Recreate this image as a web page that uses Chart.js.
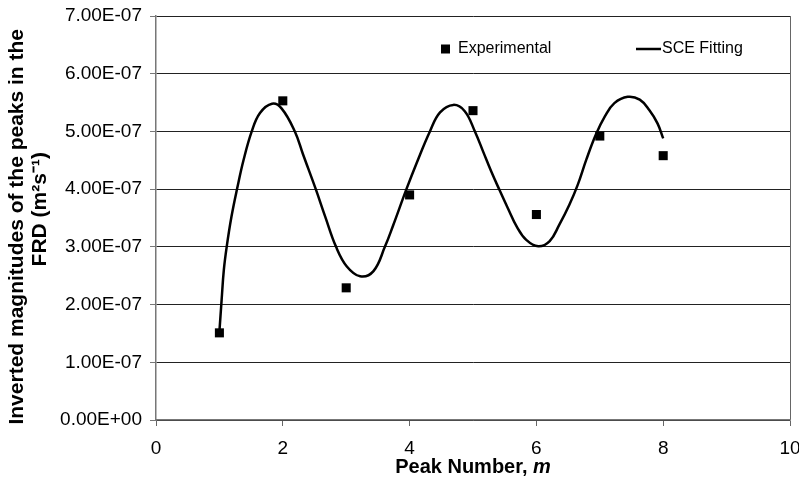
<!DOCTYPE html>
<html>
<head>
<meta charset="utf-8">
<script src="https://cdn.jsdelivr.net/npm/chart.js@4"></script>
<style>
  html, body { margin: 0; padding: 0; background: #fff; }
  #wrap { width: 799px; height: 483px; }
</style>
</head>
<body>
<div id="wrap"><canvas id="frdChart"></canvas></div>
<script>
// measured peak magnitudes
const expPeak = [1, 2, 3, 4, 5, 6, 7, 8];
const expMag = [1.51e-7, 5.53e-7, 2.29e-7, 3.90e-7, 5.36e-7, 3.56e-7, 4.92e-7, 4.58e-7];

// SCE fitted curve
const fitPeak = [1.00, 1.035, 1.07, 1.115, 1.19, 1.28, 1.38, 1.51, 1.64, 1.83, 1.98, 2.19, 2.32,
  2.52, 2.67, 2.84, 3.01, 3.22, 3.43, 3.61, 3.74, 3.95, 4.11, 4.32, 4.48, 4.69, 4.87, 5.03,
  5.16, 5.29, 5.42, 5.55, 5.69, 5.84, 6.03, 6.21, 6.36, 6.52, 6.65, 6.79, 6.94, 7.08, 7.23,
  7.44, 7.63, 7.78, 7.91, 8.00];
const fitMag = [1.53e-7, 2.08e-7, 2.60e-7, 3.00e-7, 3.52e-7, 4.01e-7, 4.50e-7, 5.00e-7, 5.32e-7,
  5.48e-7, 5.40e-7, 5.00e-7, 4.60e-7, 4.00e-7, 3.52e-7, 3.00e-7, 2.66e-7, 2.49e-7, 2.58e-7,
  3.00e-7, 3.37e-7, 4.00e-7, 4.45e-7, 5.00e-7, 5.33e-7, 5.46e-7, 5.35e-7, 5.00e-7, 4.65e-7,
  4.30e-7, 3.98e-7, 3.67e-7, 3.35e-7, 3.12e-7, 3.01e-7, 3.10e-7, 3.38e-7, 3.73e-7, 4.07e-7,
  4.52e-7, 4.95e-7, 5.26e-7, 5.49e-7, 5.60e-7, 5.55e-7, 5.37e-7, 5.14e-7, 4.88e-7];

const yTickLabels = ["0.00E+00", "1.00E-07", "2.00E-07", "3.00E-07", "4.00E-07",
  "5.00E-07", "6.00E-07", "7.00E-07"];

const FONT = "Arial, 'Liberation Sans', sans-serif";

// legend inside the plot area, plus the x title with an italic "m"
const extras = {
  id: "extras",
  afterDraw(chart) {
    const { ctx, chartArea } = chart;
    const x0 = chartArea.left, y0 = chartArea.top + 33;
    ctx.save();
    ctx.fillStyle = "#000";
    ctx.fillRect(x0 + 285, y0 - 4.5, 9, 9);
    ctx.font = "16px " + FONT;
    ctx.textBaseline = "middle";
    ctx.fillText("Experimental", x0 + 302, y0);
    ctx.strokeStyle = "#000";
    ctx.lineWidth = 2.5;
    ctx.beginPath();
    ctx.moveTo(x0 + 480, y0);
    ctx.lineTo(x0 + 505, y0);
    ctx.stroke();
    ctx.fillText("SCE Fitting", x0 + 506, y0);

    const head = "Peak Number, ", unit = "m";
    const boldFont = "bold 20px " + FONT, italFont = "italic bold 20px " + FONT;
    ctx.font = boldFont;
    const w1 = ctx.measureText(head).width;
    ctx.font = italFont;
    const w2 = ctx.measureText(unit).width;
    const tx = (chartArea.left + chartArea.right) / 2 - (w1 + w2) / 2;
    const ty = chartArea.bottom + 47;
    ctx.textAlign = "left";
    ctx.font = boldFont;
    ctx.fillText(head, tx, ty);
    ctx.font = italFont;
    ctx.fillText(unit, tx + w1, ty);
    ctx.restore();
  }
};

const ctx = document.getElementById("frdChart").getContext("2d");
const frdChart = new Chart(ctx, {
  type: "scatter",
  data: {
    datasets: [
      {
        label: "Experimental",
        data: expPeak.map((m, i) => ({ x: m, y: expMag[i] })),
        pointStyle: "rect",
        pointRadius: 6.4,
        pointBorderWidth: 0,
        backgroundColor: "#000",
        borderColor: "#000",
        order: 1,
      },
      {
        label: "SCE Fitting",
        data: fitPeak.map((m, i) => ({ x: m, y: fitMag[i] })),
        showLine: true,
        tension: 0.4,
        pointRadius: 0,
        borderColor: "#000",
        borderWidth: 2.5,
        order: 2,
      },
    ],
  },
  options: {
    responsive: true,
    maintainAspectRatio: false,
    animation: false,
    layout: { padding: { top: 16, right: 9, left: 0, bottom: 0 } },
    plugins: {
      legend: { display: false },
      tooltip: { enabled: false },
    },
    scales: {
      x: {
        type: "linear",
        min: 0,
        max: 10,
        ticks: { stepSize: 2, color: "#000", font: { family: FONT, size: 19 }, padding: 11 },
        grid: {
          color: (c) => (c.tick && c.tick.value === 10 ? "#666" : "rgba(0,0,0,0)"),
          tickColor: "#666",
          tickLength: 6,
        },
        border: { color: "#777", width: 1.5 },
        afterFit: (scale) => {
          scale.height = 63;
          scale.paddingRight = 0;
        },
      },
      y: {
        min: 0,
        max: 7e-7,
        ticks: {
          stepSize: 1e-7,
          color: "#000",
          font: { family: FONT, size: 19 },
          padding: 8,
          callback: (v, i) => yTickLabels[i],
        },
        grid: { color: "#222", lineWidth: 1, tickColor: "#777", tickLength: 6 },
        border: { color: "#777", width: 1.5 },
        title: {
          display: true,
          text: ["Inverted magnitudes of the peaks in the   ", "   FRD (m²s⁻¹)"],
          color: "#000",
          font: { family: FONT, size: 21, weight: "bold", lineHeight: 1.1 },
          padding: { top: 6, bottom: 0 },
        },
        afterFit: (scale) => {
          scale.width = 156;
          scale.paddingTop = 0;
          scale.paddingBottom = 0;
        },
      },
    },
  },
  plugins: [extras],
});
</script>
</body>
</html>
